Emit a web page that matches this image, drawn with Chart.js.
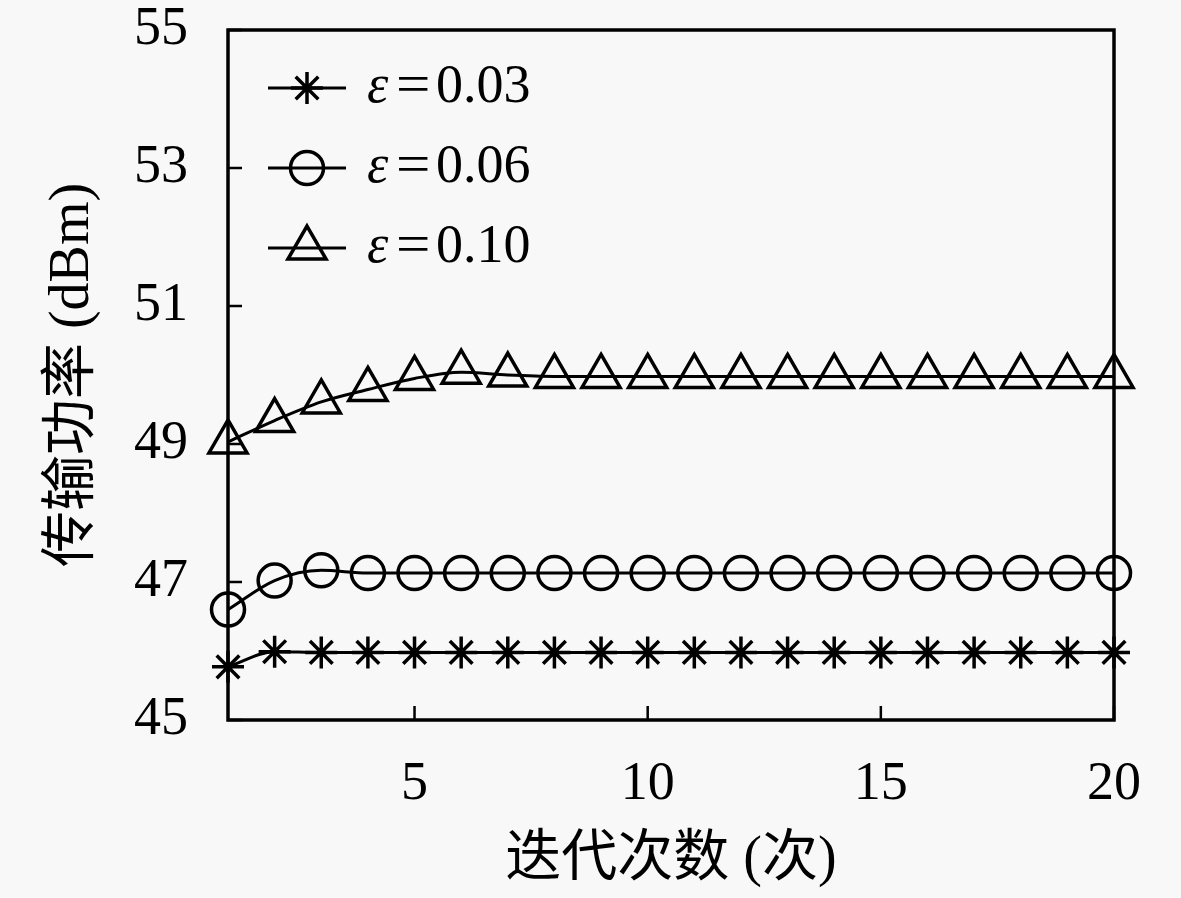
<!DOCTYPE html>
<html>
<head>
<meta charset="utf-8">
<script src="https://cdn.jsdelivr.net/npm/chart.js@4/dist/chart.umd.min.js"></script>
<style>
  html, body { margin: 0; background: #f8f8f8; }
  #wrap { width: 1181px; height: 898px; }
</style>
</head>
<body>
<div id="wrap"><canvas id="myChart"></canvas></div>
<script>
const iterations = [1, 2, 3, 4, 5, 6, 7, 8, 9, 10, 11, 12, 13, 14, 15, 16, 17, 18, 19, 20];
const eps003 = [45.77, 45.99, 45.98, 45.98, 45.98, 45.98, 45.98, 45.98, 45.98, 45.98, 45.98, 45.98, 45.98, 45.98, 45.98, 45.98, 45.98, 45.98, 45.98, 45.98];
const eps006 = [46.60, 47.02, 47.17, 47.13, 47.13, 47.13, 47.13, 47.13, 47.13, 47.13, 47.13, 47.13, 47.13, 47.13, 47.13, 47.13, 47.13, 47.13, 47.13, 47.13];
const eps010 = [49.03, 49.34, 49.61, 49.79, 49.95, 50.04, 50.00, 49.98, 49.98, 49.98, 49.98, 49.98, 49.98, 49.98, 49.98, 49.98, 49.98, 49.98, 49.98, 49.98];
const seriesNames = ["0.03", "0.06", "0.10"];
const xTicks = [5, 10, 15, 20];
const yTicks = [45, 47, 49, 51, 53, 55];

const serif = "'Liberation Serif', 'Noto Sans CJK SC', serif";
const tickFont = {family: serif, size: 54};
const titleFont = {family: serif, size: 56};

function toPoints(vals) {
  return iterations.map((x, i) => ({x: x, y: vals[i]}));
}

function makeSet(name, vals, style, r) {
  return {
    label: name,
    data: toPoints(vals),
    borderColor: "#000",
    borderWidth: 3,
    pointStyle: style,
    pointRadius: r,
    pointHoverRadius: r,
    pointBorderWidth: 3.5,
    pointBorderColor: "#000",
    pointBackgroundColor: "rgba(0,0,0,0)",
    cubicInterpolationMode: "monotone",
    clip: false
  };
}

// markers for the legend, same shapes as Chart.js draws
function drawMarker(ctx, style, x, y, r) {
  ctx.beginPath();
  if (style === "circle") {
    ctx.arc(x, y, r, 0, Math.PI * 2);
  } else if (style === "triangle") {
    let a = 0;
    ctx.moveTo(x + Math.sin(a) * r, y - Math.cos(a) * r);
    a += Math.PI * 2 / 3;
    ctx.lineTo(x + Math.sin(a) * r, y - Math.cos(a) * r);
    a += Math.PI * 2 / 3;
    ctx.lineTo(x + Math.sin(a) * r, y - Math.cos(a) * r);
    ctx.closePath();
  } else {
    ctx.moveTo(x, y - r); ctx.lineTo(x, y + r);
    ctx.moveTo(x - r, y); ctx.lineTo(x + r, y);
    const d = Math.cos(Math.PI / 4) * r;
    ctx.moveTo(x - d, y - d); ctx.lineTo(x + d, y + d);
    ctx.moveTo(x - d, y + d); ctx.lineTo(x + d, y - d);
  }
  ctx.stroke();
}

const framePlugin = {
  id: "frame",
  afterDatasetsDraw(chart) {
    const {ctx, chartArea: a, scales} = chart;
    ctx.save();
    ctx.strokeStyle = "#000";
    ctx.lineWidth = 3.5;
    ctx.strokeRect(a.left, a.top, a.right - a.left, a.bottom - a.top);
    ctx.lineWidth = 2.5;
    ctx.beginPath();
    xTicks.forEach(v => {
      const px = scales.x.getPixelForValue(v);
      ctx.moveTo(px, a.bottom); ctx.lineTo(px, a.bottom - 14);
    });
    yTicks.forEach(v => {
      const py = scales.y.getPixelForValue(v);
      ctx.moveTo(a.left, py); ctx.lineTo(a.left + 14, py);
    });
    ctx.stroke();

    // legend inside the plot
    const rowY = [88, 168, 248];
    chart.data.datasets.forEach((ds, i) => {
      const y = rowY[i];
      const x0 = a.left + 40;
      ctx.strokeStyle = "#000";
      ctx.lineWidth = 3;
      ctx.beginPath();
      ctx.moveTo(x0, y); ctx.lineTo(x0 + 78, y);
      ctx.stroke();
      ctx.lineWidth = 3.5;
      drawMarker(ctx, ds.pointStyle, x0 + 39, y, ds.pointRadius);
      ctx.fillStyle = "#000";
      ctx.textBaseline = "middle";
      ctx.textAlign = "left";
      ctx.font = "italic 54px " + serif;
      ctx.fillText("\u03b5", x0 + 99, y);
      ctx.font = "54px " + serif;
      ctx.save();
      ctx.scale(1.13, 1);
      ctx.fillText("=", (x0 + 128) / 1.13, y);
      ctx.restore();
      ctx.fillText(ds.label, x0 + 168, y);
    });
    ctx.restore();
  }
};

const ctx = document.getElementById("myChart");

new Chart(ctx, {
  type: "line",
  data: {
    datasets: [
      makeSet(seriesNames[0], eps003, "star", 16),
      makeSet(seriesNames[1], eps006, "circle", 16.5),
      makeSet(seriesNames[2], eps010, "triangle", 22)
    ]
  },
  options: {
    responsive: true,
    maintainAspectRatio: false,
    animation: false,
    layout: {padding: {top: 30, right: 67, left: 0, bottom: 0}},
    plugins: {
      legend: {display: false},
      tooltip: {enabled: false}
    },
    scales: {
      x: {
        type: "linear",
        min: 1,
        max: 20,
        afterBuildTicks: s => { s.ticks = xTicks.map(v => ({value: v})); },
        afterFit: s => { s.height = 178; s.paddingLeft = 0; s.paddingRight = 0; },
        grid: {display: false},
        border: {display: false},
        ticks: {color: "#000", font: tickFont, padding: 24, maxRotation: 0, autoSkip: false},
        title: {display: true, text: "迭代次数 (次)", color: "#000", font: titleFont, padding: {top: 0, bottom: 4}}
      },
      y: {
        min: 45,
        max: 55,
        afterBuildTicks: s => { s.ticks = yTicks.map(v => ({value: v})); },
        afterFit: s => { s.width = 228; s.paddingTop = 0; s.paddingBottom = 0; },
        grid: {display: false},
        border: {display: false},
        ticks: {color: "#000", font: tickFont, padding: 32, autoSkip: false},
        title: {display: true, text: "传输功率 (dBm)", color: "#000", font: titleFont, padding: {top: 40, bottom: 0}}
      }
    }
  },
  plugins: [framePlugin]
});
</script>
</body>
</html>
